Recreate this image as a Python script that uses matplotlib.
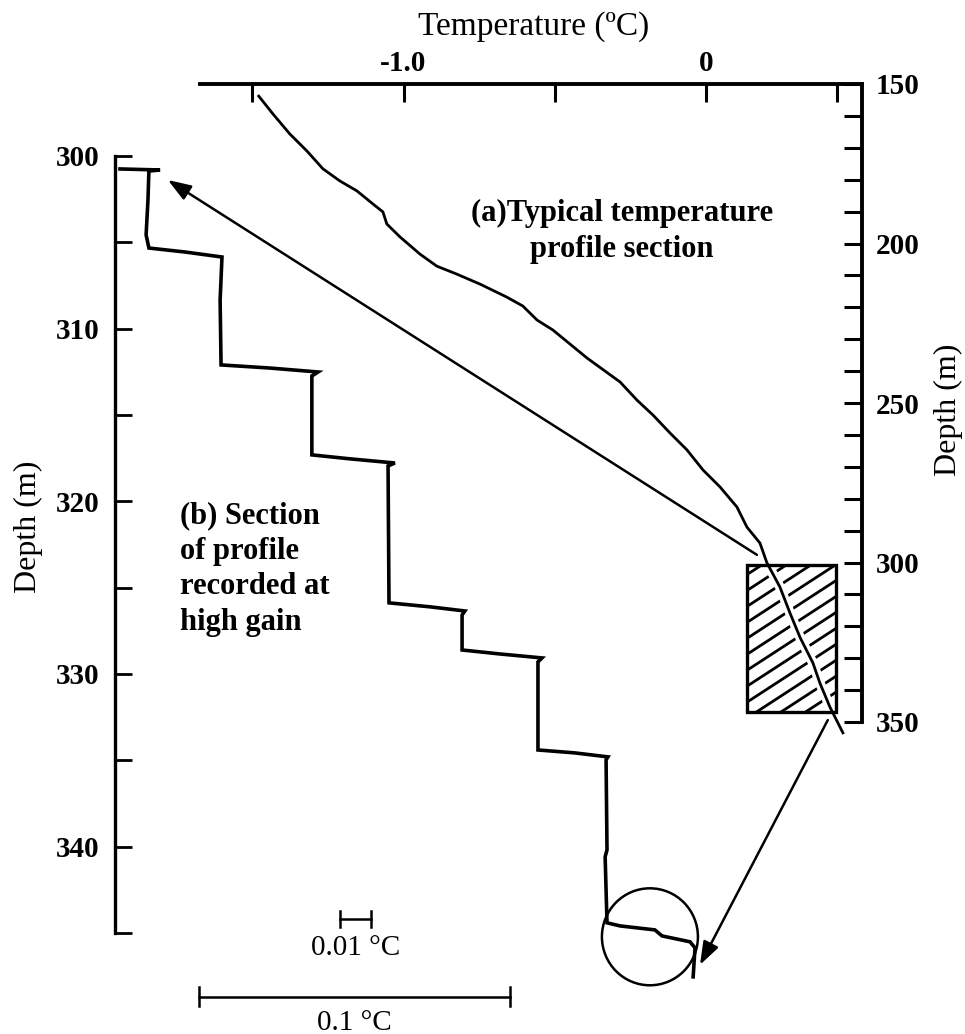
import matplotlib.pyplot as plt
from matplotlib.patches import Rectangle, Ellipse, ConnectionPatch
import numpy as np

plt.rcParams['font.family'] = ['Liberation Serif', 'DejaVu Serif']

W, H = 965, 1034

# (a) typical temperature profile section, 150-350 m
temp_a = [-1.478, -1.431, -1.375, -1.319, -1.266, -1.210, -1.154, -1.101, -1.068, -1.055,
          -1.012, -0.946, -0.890, -0.824, -0.748, -0.659, -0.606, -0.559, -0.507, -0.394,
          -0.285, -0.229, -0.176, -0.120, -0.064, -0.011, 0.045, 0.101, 0.134, 0.177,
          0.200, 0.243, 0.276, 0.309, 0.352, 0.375, 0.408, 0.451]
depth_a = [153.8, 159.4, 165.7, 171.0, 176.6, 180.4, 183.5, 187.6, 190.1, 193.9,
           197.9, 203.3, 207.1, 209.6, 212.7, 216.8, 219.6, 224.0, 227.1, 235.9,
           243.4, 249.1, 253.8, 259.4, 264.7, 271.0, 276.3, 282.6, 288.9, 293.9,
           300.1, 307.7, 315.8, 323.4, 331.5, 337.8, 345.3, 353.4]

# (b) high gain section, temperature relative to the left axis (deg C)
temp_b = [0.0016, 0.0145, 0.0109, 0.0106, 0.0100, 0.0109, 0.0225, 0.0344, 0.0338, 0.0341,
          0.0498, 0.0653, 0.0633, 0.0633, 0.0756, 0.0900, 0.0878, 0.0881, 0.1013, 0.1125,
          0.1116, 0.1116, 0.1238, 0.1373, 0.1360, 0.1360, 0.1479, 0.1585, 0.1579, 0.1582,
          0.1576, 0.1582, 0.1624, 0.1736, 0.1759, 0.1849, 0.1865, 0.1859]
depth_b = [300.75, 300.81, 300.87, 302.55, 304.57, 305.33, 305.56, 305.85, 308.34, 312.10,
           312.28, 312.51, 312.74, 317.31, 317.54, 317.78, 317.95, 325.88, 326.11, 326.35,
           326.58, 328.61, 328.84, 329.07, 329.30, 334.40, 334.57, 334.80, 334.97, 340.19,
           340.59, 344.41, 344.59, 344.82, 345.17, 345.51, 345.86, 347.54]

temp_ticks = [-1.5, -1.0, -0.5, 0.0, 0.433]
temp_labels = ['', '-1.0', '', '0', '']
depth_a_ticks = list(range(150, 351, 10))
depth_b_ticks = list(range(300, 346, 5))

box_temp = (0.134, 0.428)
box_depth = (300.8, 346.9)
scale_bars = [0.1, 0.01]
scale_labels = ['0.1 \u00b0C', '0.01 \u00b0C']


def fx(px):
    return px / W


def fy(py):
    return 1 - py / H


fig = plt.figure(figsize=(W / 100, H / 100), dpi=100)

# axes for the full profile (top / right axes)
axA = fig.add_axes([fx(200), fy(722), (862 - 200) / W, (722 - 84) / H])
axA.patch.set_visible(False)
axA.set_xlim(-1.672, 0.514)
axA.set_ylim(350, 150)
for s in ['left', 'bottom']:
    axA.spines[s].set_visible(False)
for s in ['top', 'right']:
    axA.spines[s].set_linewidth(2.8)
axA.xaxis.tick_top()
axA.yaxis.tick_right()
axA.set_xticks(temp_ticks)
axA.set_xticklabels(temp_labels, fontsize=21, fontweight='bold')
axA.set_yticks(depth_a_ticks)
axA.set_yticklabels([str(d) if d % 50 == 0 else '' for d in depth_a_ticks],
                    fontsize=21, fontweight='bold')
axA.tick_params(axis='x', direction='in', length=13, width=2.2, pad=5)
axA.tick_params(axis='y', direction='in', length=13, width=2.2, pad=10)

axA.plot(temp_a, depth_a, color='white', lw=7, clip_on=False, zorder=2,
         solid_capstyle='butt')
axA.plot(temp_a, depth_a, color='black', lw=2.0, clip_on=False, zorder=4)

# hatched box
rect = Rectangle((box_temp[0], box_depth[0]), box_temp[1] - box_temp[0],
                 box_depth[1] - box_depth[0], fill=False, lw=2.4,
                 edgecolor='black', clip_on=False, zorder=3)
axA.add_patch(rect)
clip = Rectangle((box_temp[0], box_depth[0]), box_temp[1] - box_temp[0],
                 box_depth[1] - box_depth[0], transform=axA.transData)
slope = 61.7
tt = np.array(box_temp)
for c in np.arange(box_depth[0] + 3, box_depth[1] + slope * 0.3, 5.0):
    ln, = axA.plot(tt, c - slope * (tt - box_temp[0]), color='black', lw=2.0,
                   zorder=1)
    ln.set_clip_path(clip)

# axes for the high gain section (left axis)
axB = fig.add_axes([fx(115), fy(933), (862 - 115) / W, (933 - 156) / H])
axB.patch.set_visible(False)
axB.set_xlim(0, 747 / 3110)
axB.set_ylim(345, 300)
for s in ['top', 'right', 'bottom']:
    axB.spines[s].set_visible(False)
axB.spines['left'].set_linewidth(2.4)
axB.set_xticks([])
axB.set_yticks(depth_b_ticks)
axB.set_yticklabels([str(d) if d % 10 == 0 else '' for d in depth_b_ticks],
                    fontsize=21, fontweight='bold')
axB.tick_params(axis='y', direction='in', length=12, width=2.0, pad=11)

axB.plot(temp_b, depth_b, color='black', lw=2.6, clip_on=False,
         solid_joinstyle='miter')
axB.add_patch(Ellipse((0.172, 345.22), 96 / 3110, 97 / 17.27, fill=False,
                      lw=1.8, clip_on=False))

# scale bars
bar_pos = [(0.027, 348.7, 0.55), (0.0723, 344.2, 0.45)]
for length, (x0, d, cap), lab, ty in zip(scale_bars, bar_pos, scale_labels, [1023, 948]):
    axB.plot([x0, x0 + length], [d, d], color='black', lw=1.8, clip_on=False)
    for xe in [x0, x0 + length]:
        axB.plot([xe, xe], [d - cap, d + cap], color='black', lw=1.8, clip_on=False)
    fig.text(axB.transData.transform((x0 + length / 2, d))[0] / W, fy(ty), lab,
             fontsize=21, ha='center', va='center')

# arrows linking the two sections
for xyA, xyB in [((0.167, 297.6), (0.0170, 301.39)), ((0.401, 349.4), (0.1881, 346.84))]:
    con = ConnectionPatch(xyA=xyA, coordsA=axA.transData, xyB=xyB, coordsB=axB.transData,
                          arrowstyle='-|>,head_length=0.7,head_width=0.25',
                          mutation_scale=20, lw=1.8, color='black',
                          shrinkA=0, shrinkB=0)
    fig.add_artist(con)

# labels
fig.text(fx(534), fy(27), 'Temperature (\u00baC)', fontsize=24, ha='center', va='center')
fig.text(fx(28), fy(527), 'Depth (m)', fontsize=23, rotation=90, ha='center', va='center')
fig.text(fx(948), fy(410), 'Depth (m)', fontsize=23, rotation=90, ha='center', va='center')
fig.text(fx(622), fy(213), '(a)Typical temperature', fontsize=22, fontweight='bold',
         ha='center', va='center')
fig.text(fx(622), fy(250), 'profile section', fontsize=22, fontweight='bold',
         ha='center', va='center')
for i, line in enumerate(['(b) Section', 'of profile', 'recorded at', 'high gain']):
    fig.text(fx(180), fy(516 + 35.5 * i), line, fontsize=22, fontweight='bold',
             ha='left', va='center')

fig.savefig('out.png', dpi=100)
